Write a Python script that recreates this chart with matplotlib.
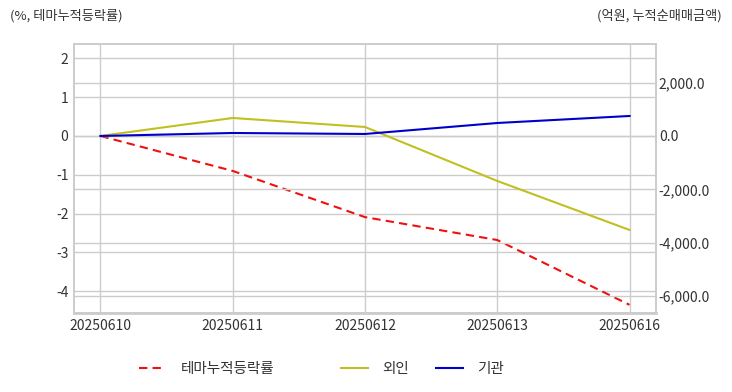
import matplotlib
matplotlib.use('Agg')
import matplotlib.pyplot as plt

plt.rcParams['font.family'] = ['Noto Sans CJK KR', 'DejaVu Sans']
plt.rcParams['axes.unicode_minus'] = False

dates = ['20250610', '20250611', '20250612', '20250613', '20250616']
theme_rate = [0.0, -0.90, -2.09, -2.68, -4.35]
foreign = [0.0, 675.0, 337.0, -1687.0, -3525.0]
institution = [0.0, 112.0, 75.0, 487.0, 750.0]

grid_c = '#cccccc'
text_c = '#333333'

fig = plt.figure(figsize=(7.32, 3.92), dpi=100)
ax = fig.add_axes([74 / 732, 1 - 313 / 392, (656 - 74) / 732, (313 - 44) / 392])
ax2 = ax.twinx()

x = list(range(len(dates)))
l1, = ax.plot(x, theme_rate, color='#ee1111', linestyle='--', linewidth=1.5, dashes=(4, 2.5),
              label='테마누적등락률', zorder=3)
l2, = ax2.plot(x, foreign, color='#c0c020', linewidth=1.5, label='외인')
l3, = ax2.plot(x, institution, color='#0000cc', linewidth=1.5, label='기관')

ax.set_xlim(-0.2, 4.2)
ax.set_ylim(-4.56, 2.37)
ax2.set_ylim(-6640, 3450)
ax.set_xticks(x)
ax.set_xticklabels(dates)
ax.set_yticks([2, 1, 0, -1, -2, -3, -4])
ax2.set_yticks([2000, 0, -2000, -4000, -6000])
ax2.set_yticklabels([f'{v:,.1f}' for v in [2000, 0, -2000, -4000, -6000]])

ax.grid(True, color=grid_c, linewidth=1)
ax2.grid(True, axis='y', color=grid_c, linewidth=1)
ax.set_axisbelow(True)
ax2.set_axisbelow(True)

for a in (ax, ax2):
    a.tick_params(length=0, labelsize=10, colors=text_c, pad=4)
    for s in a.spines.values():
        s.set_color(grid_c)
        s.set_linewidth(1.2)
ax.spines['bottom'].set_linewidth(2)
ax.tick_params(axis='y', pad=4)
ax2.tick_params(axis='y', pad=2)

fig.text(10 / 732, 1 - 16 / 392, '(%, 테마누적등락률)', fontsize=9.5, color=text_c, va='center', ha='left')
fig.text(722 / 732, 1 - 16 / 392, '(억원, 누적순매매금액)', fontsize=9.5, color=text_c, va='center', ha='right')

# legend items placed one by one to match the uneven spacing
for handle, left in [(l1, 139), (l2, 341), (l3, 436)]:
    fig.legend(handles=[handle], loc='center left', bbox_to_anchor=(left / 732, 1 - 369 / 392),
               frameon=False, fontsize=10.5, handlelength=1.85, handletextpad=1.0,
               labelcolor=text_c, borderpad=0, borderaxespad=0)

fig.savefig('out.png', dpi=100)
